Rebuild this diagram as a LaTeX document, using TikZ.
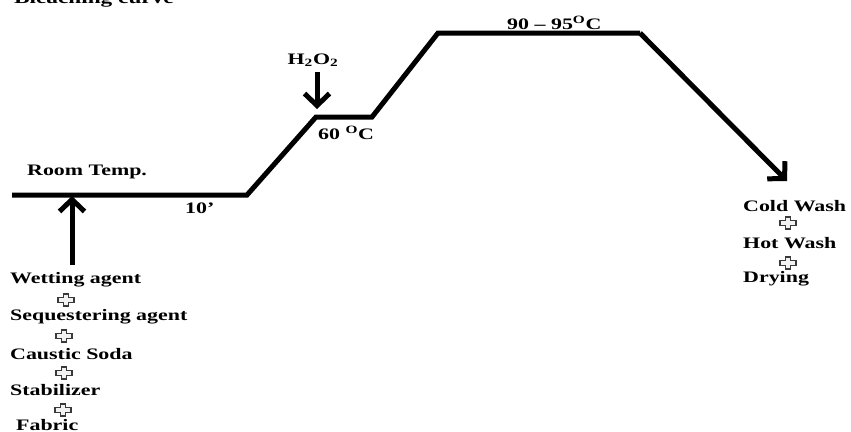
\documentclass[tikz,border=0pt]{standalone}
\usepackage{fontspec}
\usepackage{graphicx}
\setmainfont{Liberation Serif}
\usetikzlibrary{arrows.meta}
\newcommand\sx[1]{\scalebox{1.37}[1]{#1}}
\tikzset{
  lbl/.style={font=\fontsize{16}{16}\selectfont\bfseries, inner sep=0pt, anchor=west},
  curve/.style={line width=5pt, line join=miter},
  arr/.style={line width=5pt, -{Straight Barb[length=12pt,width=25pt]}},
  plusmark/.pic={
    \draw[fill=gray!10, draw=gray!45!black, line width=1.7pt]
      (-2.6,-6.2) -- (2.6,-6.2) -- (2.6,-2.4) -- (7.8,-2.4) -- (7.8,2.4) -- (2.6,2.4)
      -- (2.6,6.2) -- (-2.6,6.2) -- (-2.6,2.4) -- (-7.8,2.4) -- (-7.8,-2.4) -- (-2.6,-2.4) -- cycle;
  }
}
\begin{document}
\begin{tikzpicture}[x=1pt,y=-1pt]
\useasboundingbox (0,0) rectangle (851,431);
% cropped heading fragment
\begin{scope}
\clip (0,0) rectangle (851,431);
\node[font=\fontsize{17}{17}\selectfont\bfseries, inner sep=0pt, anchor=base east] (head) at (174,3.5) {\sx{Bleaching curve}};
\end{scope}
% curve corners
\coordinate (p0) at (12,195);
\coordinate (p1) at (247,195);
\coordinate (p2) at (316,117);
\coordinate (p3) at (372,117);
\coordinate (p4) at (438,33);
\coordinate (p5) at (640,33);
\coordinate (p6) at (787,181);
\draw[curve] (p0) -- (p1) -- (p2) -- (p3) -- (p4) -- (p5);
\draw[arr] (p5) -- (p6);
% inputs
\coordinate (upstart) at (72,265);
\coordinate (uptip) at (72,196);
\draw[arr] (upstart) -- (uptip);
\coordinate (hstart) at (317,72);
\coordinate (htip) at (317,109);
\draw[arr] (hstart) -- (htip);
% labels
\node[lbl] (room) at (27,172) {\sx{Room Temp.}};
\node[lbl] (ten) at (185,208) {\sx{10’}};
\node[font=\fontsize{16}{16}\selectfont\bfseries, inner sep=0pt] (h2o2) at (313,60) {\sx{H\textsubscript{2}O\textsubscript{2}}};
\node[lbl] (sixty) at (318,133) {\sx{60 \textsuperscript{O}C}};
\node[lbl] (ninety) at (507,23) {\sx{90 – 95\textsuperscript{O}C}};
% left list
\node[lbl] (wet) at (10,280) {\sx{Wetting agent}};
\pic at (66,300) {plusmark};
\node[lbl] (seq) at (10,317) {\sx{Sequestering agent}};
\pic at (64,336) {plusmark};
\node[lbl] (caus) at (10,354) {\sx{Caustic Soda}};
\pic at (64,373) {plusmark};
\node[lbl] (stab) at (10,390) {\sx{Stabilizer}};
\pic at (63,410) {plusmark};
\node[lbl] (fab) at (16,425) {\sx{Fabric}};
% right list
\node[lbl] (cold) at (743,206) {\sx{Cold Wash}};
\pic at (788,223) {plusmark};
\node[lbl] (hot) at (743,243) {\sx{Hot Wash}};
\pic at (788,263) {plusmark};
\node[lbl] (dry) at (743,279) {\sx{Drying}};
\end{tikzpicture}
\end{document}
